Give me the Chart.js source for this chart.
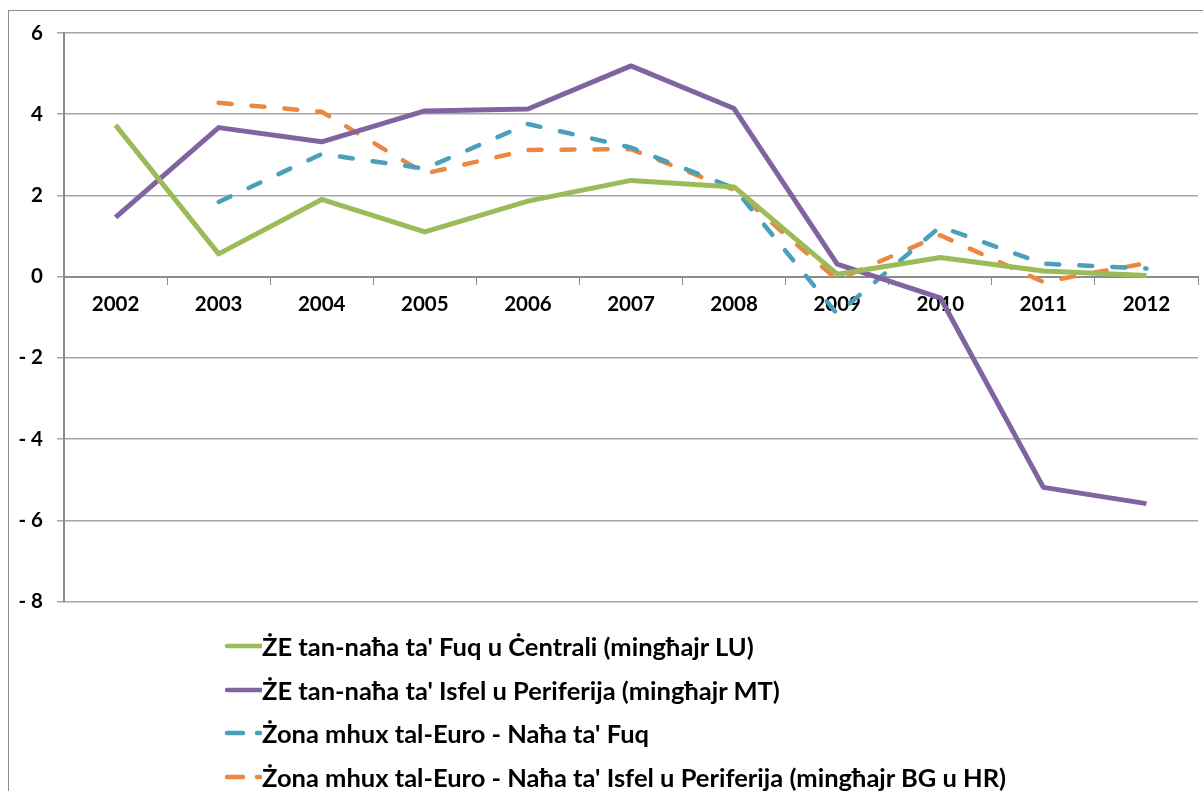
<!DOCTYPE html>
<html>
<head>
<meta charset="utf-8">
<script src="https://cdn.jsdelivr.net/npm/chart.js@4.4.0/dist/chart.umd.min.js"></script>
<style>
  html, body { margin: 0; padding: 0; background: #fff; overflow: hidden; }
  #wrap { position: relative; width: 1203px; height: 791px; }
  #frame { position: absolute; left: 8px; top: 10px; width: 1300px; height: 900px; border: 1px solid #8c8c8c; box-sizing: border-box; }
  #c { position: absolute; left: 0; top: 0; }
  #legend { position: absolute; left: 224px; top: 624px; font-family: Lato, "Open Sans", sans-serif; font-weight: bold; font-size: 25.5px; color: #000; }
  .row { height: 43.7px; display: flex; align-items: center; white-space: nowrap; }
  .row svg { width: 38px; height: 10px; margin-right: 0px; flex: none; }
</style>
</head>
<body>
<div id="wrap">
  <div id="frame"></div>
  <canvas id="c" width="1203" height="791"></canvas>
  <div id="legend"></div>
</div>
<script>
const categories = ['2002','2003','2004','2005','2006','2007','2008','2009','2010','2011','2012'];

const labelCentral = "ŻE tan-naħa ta' Fuq u Ċentrali (mingħajr LU)";
const labelSouth = "ŻE tan-naħa ta' Isfel u Periferija (mingħajr MT)";
const labelNonEuroNorth = "Żona mhux tal-Euro - Naħa ta' Fuq";
const labelNonEuroSouth = "Żona mhux tal-Euro - Naħa ta' Isfel u Periferija (mingħajr BG u HR)";

const centralValues = [3.73, 0.56, 1.90, 1.10, 1.86, 2.37, 2.21, 0.06, 0.47, 0.14, 0.03];
const southValues = [1.46, 3.67, 3.32, 4.08, 4.13, 5.19, 4.14, 0.31, -0.52, -5.19, -5.59];
const nonEuroNorthValues = [null, 1.84, 3.02, 2.66, 3.76, 3.18, 2.18, -0.92, 1.23, 0.32, 0.20];
const nonEuroSouthValues = [null, 4.28, 4.06, 2.54, 3.12, 3.14, 2.14, -0.08, 1.02, -0.13, 0.33];

const yTickValues = [6, 4, 2, 0, -2, -4, -6, -8];

const colors = { green: '#9BBB59', purple: '#8064A2', blue: '#4A9FBA', orange: '#EB8740' };
const FONT = 'Lato, "Open Sans", sans-serif';

const datasets = [
  { label: labelCentral, data: centralValues, borderColor: colors.green, borderWidth: 5, dashed: false },
  { label: labelSouth, data: southValues, borderColor: colors.purple, borderWidth: 5, dashed: false },
  { label: labelNonEuroNorth, data: nonEuroNorthValues, borderColor: colors.blue, borderWidth: 4.5, borderDash: [13, 20], borderCapStyle: 'round', dashed: true },
  { label: labelNonEuroSouth, data: nonEuroSouthValues, borderColor: colors.orange, borderWidth: 4.5, borderDash: [13, 20], borderCapStyle: 'round', dashed: true }
].map(d => Object.assign({ pointRadius: 0, pointHoverRadius: 0, tension: 0, fill: false, spanGaps: false, borderJoinStyle: 'round' }, d));

const chart = new Chart(document.getElementById('c'), {
  type: 'line',
  data: { labels: categories, datasets: datasets },
  options: {
    responsive: false,
    animation: false,
    events: [],
    layout: { padding: { top: 33, right: 5, bottom: 189.5, left: 0 } },
    plugins: { legend: { display: false }, tooltip: { enabled: false } },
    scales: {
      x: {
        type: 'category',
        position: { y: 0 },
        offset: true,
        grid: { offset: true, drawOnChartArea: false, drawTicks: true, tickLength: 7, color: '#8c8c8c', lineWidth: 1 },
        border: { display: true, color: '#8c8c8c', width: 2 },
        ticks: { color: '#000', font: { family: FONT, size: 20.5, weight: 'bold' }, padding: 8, maxRotation: 0, autoSkip: false }
      },
      y: {
        min: -8, max: 6,
        afterFit: (s) => { s.width = 64; },
        afterBuildTicks: (s) => { s.ticks = yTickValues.map(v => ({ value: v })); },
        grid: { color: '#a6a6a6', lineWidth: 1.5, tickLength: 7, drawTicks: true },
        border: { display: true, color: '#8c8c8c', width: 2 },
        ticks: {
          color: '#000', padding: 14,
          font: { family: FONT, size: 20.5, weight: 'bold' },
          callback: (v) => v < 0 ? '- ' + Math.abs(v) : String(v)
        }
      }
    }
  }
});

// HTML legend built from the chart's datasets
const legend = document.getElementById('legend');
chart.data.datasets.forEach(ds => {
  const row = document.createElement('div');
  row.className = 'row';
  const svgNS = 'http://www.w3.org/2000/svg';
  const svg = document.createElementNS(svgNS, 'svg');
  svg.setAttribute('viewBox', '0 0 38 10');
  const line = document.createElementNS(svgNS, 'line');
  line.setAttribute('x1', '3'); line.setAttribute('x2', ds.dashed ? '36' : '38');
  line.setAttribute('y1', '5'); line.setAttribute('y2', '5');
  line.setAttribute('stroke', ds.borderColor);
  line.setAttribute('stroke-width', '4.5');
  line.setAttribute('stroke-linecap', 'round');
  if (ds.dashed) line.setAttribute('stroke-dasharray', '16 14');
  svg.appendChild(line);
  const span = document.createElement('span');
  span.textContent = ds.label;
  row.appendChild(svg);
  row.appendChild(span);
  legend.appendChild(row);
});
</script>
</body>
</html>
